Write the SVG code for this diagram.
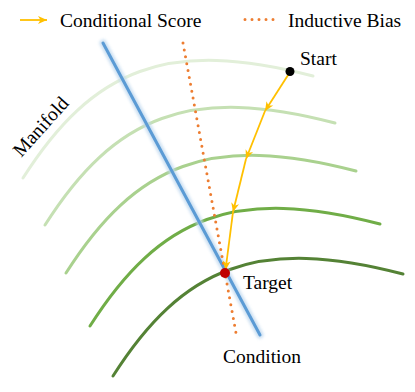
<svg xmlns="http://www.w3.org/2000/svg" width="415" height="392" viewBox="0 0 415 392">
<style>
.lbl{font-family:"Liberation Serif","Times New Roman",serif;font-size:19.5px;fill:#000}
.curve{fill:none;stroke-width:3;stroke-linecap:round}
.score{stroke:#ffc000;stroke-width:1.8;fill:none}
.bias{stroke:#ed7d31;stroke-width:3;stroke-linecap:round;stroke-dasharray:0 7;fill:none}
</style>
<defs>
<marker id="ah" markerUnits="userSpaceOnUse" markerWidth="12" markerHeight="10" viewBox="-10 -5 12 10" refX="0" refY="0" orient="auto">
<path d="M0,0 L-9,-4 L-6.5,0 L-9,4 Z" fill="#ffc000"/>
</marker>
<filter id="glow" x="-20%" y="-20%" width="140%" height="140%"><feGaussianBlur stdDeviation="1.5"/></filter>
<path id="arc" d="M0,0 C70,-110 145,-140 290,-102"/>
</defs>
<rect width="415" height="392" fill="#fff"/>
<g id="legend">
<line class="score" x1="20" y1="20" x2="47" y2="20" marker-end="url(#ah)"/>
<text class="lbl" x="60" y="27">Conditional Score</text>
<line class="bias" x1="245" y1="19.5" x2="274" y2="19.5"/>
<text class="lbl" x="288" y="27">Inductive Bias</text>
</g>
<g id="manifold">
<use href="#arc" class="curve" stroke="#e2efd9" transform="translate(23,178)"/>
<use href="#arc" class="curve" stroke="#c5e0b3" transform="translate(45,225)"/>
<use href="#arc" class="curve" stroke="#a9d18e" transform="translate(66,273)"/>
<use href="#arc" class="curve" stroke="#70ad47" transform="translate(90,326)"/>
<use href="#arc" class="curve" stroke="#548235" transform="translate(113,376)"/>
<text class="lbl" transform="translate(45.5,131) rotate(-48)" text-anchor="middle">Manifold</text>
</g>
<g id="condition">
<line x1="103" y1="43" x2="260" y2="335" stroke="#bdd7ee" stroke-width="7" stroke-linecap="round" filter="url(#glow)" opacity="0.8"/>
<line x1="103" y1="43" x2="260" y2="335" stroke="#5b9bd5" stroke-width="3" stroke-linecap="round"/>
<text class="lbl" x="223" y="363">Condition</text>
</g>
<g id="bias">
<line class="bias" x1="183" y1="43" x2="236" y2="333"/>
</g>
<g id="connectors">
<line class="score" x1="290" y1="72" x2="265" y2="111" marker-end="url(#ah)"/>
<line class="score" x1="265" y1="111" x2="246" y2="159" marker-end="url(#ah)"/>
<line class="score" x1="246" y1="159" x2="233" y2="212" marker-end="url(#ah)"/>
<line class="score" x1="233" y1="212" x2="225.5" y2="270" marker-end="url(#ah)"/>
</g>
<g id="start">
<circle cx="290" cy="71.5" r="4.5" fill="#000"/>
<text class="lbl" x="300" y="65">Start</text>
</g>
<g id="target">
<circle cx="225" cy="273" r="5" fill="#c00000"/>
<text class="lbl" x="243" y="289">Target</text>
</g>
</svg>
